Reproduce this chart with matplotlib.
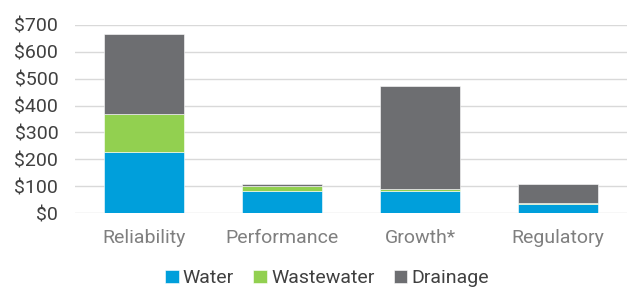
import numpy as np
import matplotlib.pyplot as plt
from matplotlib.ticker import FuncFormatter

plt.rcParams['font.family'] = ['Roboto', 'DejaVu Sans']

categories = ['Reliability', 'Performance', 'Growth*', 'Regulatory']
water = [228, 84, 84, 33]
wastewater = [142, 17, 5, 7]
drainage = [294, 8, 384, 68]

colors = {'Water': '#009FDB', 'Wastewater': '#92D050', 'Drainage': '#6D6E71'}

fig = plt.figure(figsize=(6.29, 2.89), dpi=100)
ax = fig.add_axes([75 / 629, 1 - 213.3 / 289, 552 / 629, (213.3 - 24.7) / 289])

x = np.arange(len(categories))
w = 0.58
bottom = np.zeros(len(categories))
for name, vals in [('Water', water), ('Wastewater', wastewater), ('Drainage', drainage)]:
    ax.bar(x, vals, w, bottom=bottom, color=colors[name], label=name, zorder=3,
           edgecolor='white', linewidth=0.4)
    bottom += np.array(vals)

ax.set_xlim(-0.5, len(categories) - 0.5)
ax.set_ylim(0, 700)
ax.set_yticks(range(0, 701, 100))
ax.yaxis.set_major_formatter(FuncFormatter(lambda v, p: f'${v:.0f}'))
ax.grid(axis='y', color='#D9D9D9', linewidth=1, zorder=0)
for s in ax.spines.values():
    s.set_visible(False)
ax.tick_params(length=0)
ax.tick_params(axis='y', labelsize=14, labelcolor='#404040', pad=12)
ax.tick_params(axis='x', labelsize=14, labelcolor='#7F7F7F', pad=11)
ax.set_xticks(x)
ax.set_xticklabels(categories)

fig.legend(loc='lower center', bbox_to_anchor=(0.52, -0.055), ncol=3, frameon=False,
           fontsize=14, handlelength=0.7, handleheight=0.7, handletextpad=0.2,
           columnspacing=1.0, labelcolor='#404040')

fig.savefig('out.png', dpi=100)
